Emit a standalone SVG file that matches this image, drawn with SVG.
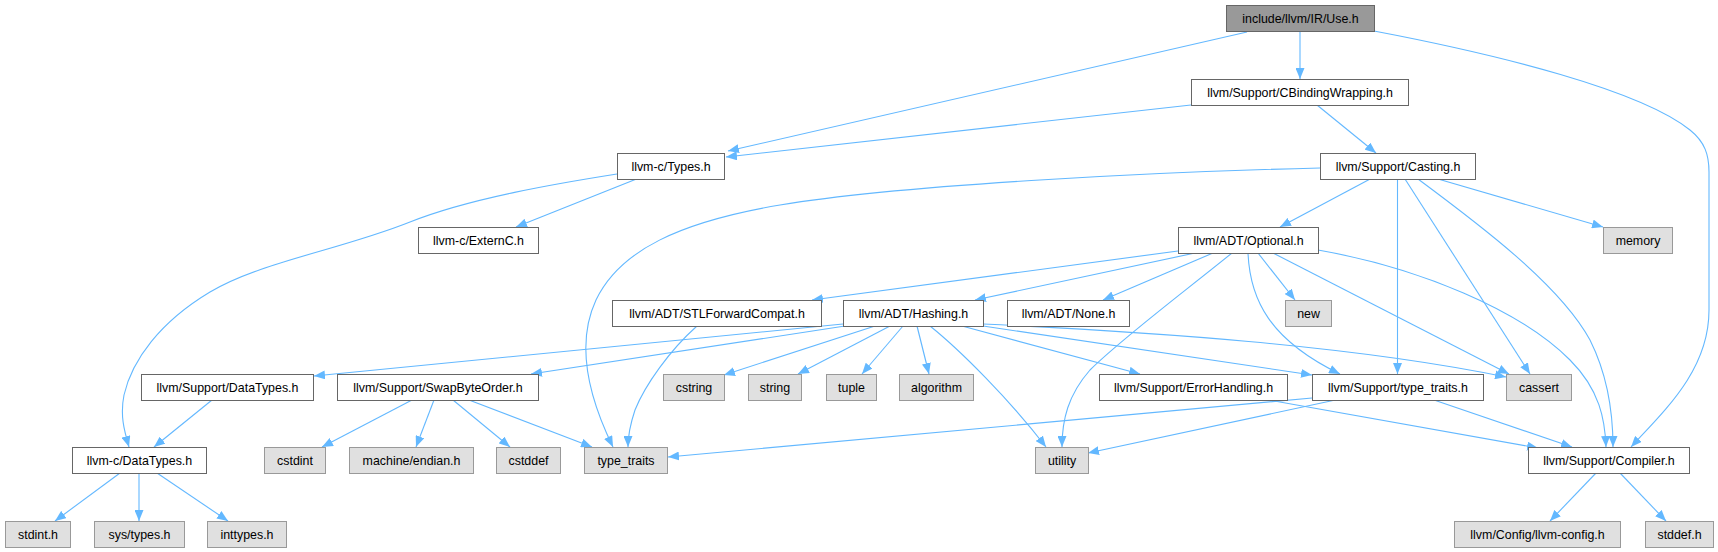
<svg xmlns="http://www.w3.org/2000/svg" width="1718" height="552" viewBox="0 0 1718 552">
<style>
.n rect{fill:#ffffff;stroke:#666666;stroke-width:1}
.g rect{fill:#e0e0e0;stroke:#999999;stroke-width:1}
.r rect{fill:#999999;stroke:#666666;stroke-width:1}
text{font-family:"Liberation Sans",Arial,Helvetica,sans-serif;font-size:12.4px;fill:#000000;text-anchor:middle}
#edges path{fill:none;stroke:#63b8ff;stroke-width:1.1;marker-end:url(#ah)}
</style>
<defs>
<marker id="ah" markerWidth="12" markerHeight="9" refX="11" refY="4.5" orient="auto" markerUnits="userSpaceOnUse">
<path d="M0,0 L11,4.5 L0,9 z" fill="#63b8ff" stroke="none"/>
</marker>
</defs>
<rect width="1718" height="552" fill="#ffffff"/>
<g id="edges">
<path d="M1247,32 L728,151"/>
<path d="M1300,31 L1300,79"/>
<path d="M1374,31 C1500,55 1640,90 1690,130 C1705,142 1709,155 1709,172 L1709,310 C1709,370 1665,410 1631,447"/>
<path d="M1191,105 L726,157"/>
<path d="M1317,105 L1376,153"/>
<path d="M639,178 L516,227"/>
<path d="M617,174 C560,183 470,198 410,222 C340,250 260,262 210,292 C160,322 132,360 124,395 C120,415 124,430 129,447"/>
<path d="M1320,168 C1150,172 900,185 780,205 C680,222 620,250 596,300 C575,345 590,400 613,447"/>
<path d="M1372,178 L1280,227"/>
<path d="M1397.5,179 L1397.5,374"/>
<path d="M1405,179 L1530,374"/>
<path d="M1418,179 C1480,225 1560,285 1590,340 C1610,380 1613,420 1613,447"/>
<path d="M1438,179 L1603,227"/>
<path d="M1178,251 L812,300"/>
<path d="M1195,253 L975,300"/>
<path d="M1213,253 L1103,300"/>
<path d="M1258,253 L1295,300"/>
<path d="M1248,253 C1250,300 1270,340 1340,374"/>
<path d="M1273,253 L1509,374"/>
<path d="M1318,250 C1420,268 1520,310 1570,360 C1600,390 1605,420 1606,447"/>
<path d="M1232,253 C1180,295 1120,340 1090,370 C1068,395 1062,420 1062,447"/>
<path d="M843,324 L314,376"/>
<path d="M845,326 L531,374"/>
<path d="M875,326 L724,375"/>
<path d="M890,326 L798,374"/>
<path d="M903,326 L862,374"/>
<path d="M917,326 L929,374"/>
<path d="M930,326 C960,350 1010,400 1046,447"/>
<path d="M962,326 L1140,374"/>
<path d="M983,326 L1312,375"/>
<path d="M983,324 C1150,332 1350,345 1506,377"/>
<path d="M697,326 C670,350 645,385 635,410 C630,425 628,437 628,447"/>
<path d="M1312,398 L668,457"/>
<path d="M1340,399 L1088,453"/>
<path d="M1434,400 L1572,447"/>
<path d="M1263,399 L1538,448"/>
<path d="M412,400 L322,447"/>
<path d="M434,400 L416,447"/>
<path d="M453,400 L510,447"/>
<path d="M469,400 L592,447"/>
<path d="M212,400 L154,447"/>
<path d="M120,473 L55,521"/>
<path d="M139,473 L139,521"/>
<path d="M157,473 L228,521"/>
<path d="M1596,473 L1550,521"/>
<path d="M1620,473 L1666,521"/>
</g>
<g id="use" class="r"><rect x="1226.5" y="5.5" width="148" height="26"/><text x="1300.5" y="22.5">include/llvm/IR/Use.h</text></g>
<g id="cbw" class="n"><rect x="1191.5" y="79.5" width="217" height="26"/><text x="1300" y="96.5">llvm/Support/CBindingWrapping.h</text></g>
<g id="types" class="n"><rect x="617.5" y="153.5" width="107" height="26"/><text x="671" y="170.5">llvm-c/Types.h</text></g>
<g id="casting" class="n"><rect x="1320.5" y="153.5" width="155" height="26"/><text x="1398" y="170.5">llvm/Support/Casting.h</text></g>
<g id="externc" class="n"><rect x="418.5" y="227.5" width="120" height="26"/><text x="478.5" y="244.5">llvm-c/ExternC.h</text></g>
<g id="optional" class="n"><rect x="1178.5" y="227.5" width="140" height="26"/><text x="1248.5" y="244.5">llvm/ADT/Optional.h</text></g>
<g id="memory" class="g"><rect x="1603.5" y="227.5" width="69" height="26"/><text x="1638" y="244.5">memory</text></g>
<g id="stlfc" class="n"><rect x="612.5" y="300.5" width="209" height="26"/><text x="717" y="317.5">llvm/ADT/STLForwardCompat.h</text></g>
<g id="hashing" class="n"><rect x="843.5" y="300.5" width="140" height="26"/><text x="913.5" y="317.5">llvm/ADT/Hashing.h</text></g>
<g id="none" class="n"><rect x="1007.5" y="300.5" width="122" height="26"/><text x="1068.5" y="317.5">llvm/ADT/None.h</text></g>
<g id="new" class="g"><rect x="1285.5" y="300.5" width="46" height="26"/><text x="1308.5" y="317.5">new</text></g>
<g id="sdatatypes" class="n"><rect x="141.5" y="374.5" width="172" height="26"/><text x="227.5" y="391.5">llvm/Support/DataTypes.h</text></g>
<g id="swap" class="n"><rect x="337.5" y="374.5" width="201" height="26"/><text x="438" y="391.5">llvm/Support/SwapByteOrder.h</text></g>
<g id="cstring" class="g"><rect x="663.5" y="374.5" width="61" height="26"/><text x="694" y="391.5">cstring</text></g>
<g id="string" class="g"><rect x="748.5" y="374.5" width="53" height="26"/><text x="775" y="391.5">string</text></g>
<g id="tuple" class="g"><rect x="826.5" y="374.5" width="50" height="26"/><text x="851.5" y="391.5">tuple</text></g>
<g id="algorithm" class="g"><rect x="899.5" y="374.5" width="74" height="26"/><text x="936.5" y="391.5">algorithm</text></g>
<g id="errorhandling" class="n"><rect x="1099.5" y="374.5" width="188" height="26"/><text x="1193.5" y="391.5">llvm/Support/ErrorHandling.h</text></g>
<g id="stypetraits" class="n"><rect x="1312.5" y="374.5" width="171" height="26"/><text x="1398" y="391.5">llvm/Support/type_traits.h</text></g>
<g id="cassert" class="g"><rect x="1506.5" y="374.5" width="65" height="26"/><text x="1539" y="391.5">cassert</text></g>
<g id="cdatatypes" class="n"><rect x="72.5" y="447.5" width="134" height="26"/><text x="139.5" y="464.5">llvm-c/DataTypes.h</text></g>
<g id="cstdint" class="g"><rect x="264.5" y="447.5" width="61" height="26"/><text x="295" y="464.5">cstdint</text></g>
<g id="endian" class="g"><rect x="349.5" y="447.5" width="124" height="26"/><text x="411.5" y="464.5">machine/endian.h</text></g>
<g id="cstddef" class="g"><rect x="496.5" y="447.5" width="64" height="26"/><text x="528.5" y="464.5">cstddef</text></g>
<g id="typetraits" class="g"><rect x="584.5" y="447.5" width="83" height="26"/><text x="626" y="464.5">type_traits</text></g>
<g id="utility" class="g"><rect x="1035.5" y="447.5" width="53" height="26"/><text x="1062" y="464.5">utility</text></g>
<g id="compiler" class="n"><rect x="1528.5" y="447.5" width="161" height="26"/><text x="1609" y="464.5">llvm/Support/Compiler.h</text></g>
<g id="stdint" class="g"><rect x="5.5" y="521.5" width="65" height="26"/><text x="38" y="538.5">stdint.h</text></g>
<g id="systypes" class="g"><rect x="94.5" y="521.5" width="90" height="26"/><text x="139.5" y="538.5">sys/types.h</text></g>
<g id="inttypes" class="g"><rect x="207.5" y="521.5" width="79" height="26"/><text x="247" y="538.5">inttypes.h</text></g>
<g id="llvmconfig" class="g"><rect x="1454.5" y="521.5" width="166" height="26"/><text x="1537.5" y="538.5">llvm/Config/llvm-config.h</text></g>
<g id="stddef" class="g"><rect x="1645.5" y="521.5" width="68" height="26"/><text x="1679.5" y="538.5">stddef.h</text></g>
</svg>
